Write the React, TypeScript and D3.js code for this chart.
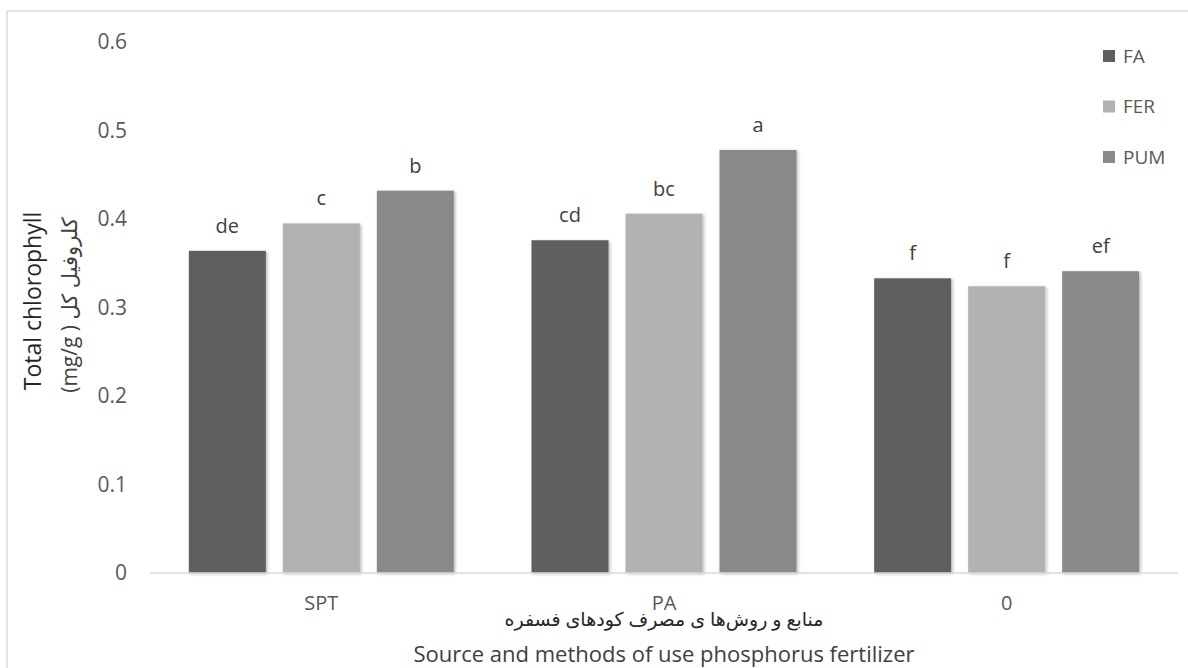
import React from "react";
import * as d3 from "d3";

const categories = ["SPT", "PA", "0"];
const seriesNames = ["FA", "FER", "PUM"];
const faValues = [0.364, 0.376, 0.333];
const ferValues = [0.395, 0.406, 0.324];
const pumValues = [0.432, 0.478, 0.341];
const faLetters = ["de", "cd", "f"];
const ferLetters = ["c", "bc", "f"];
const pumLetters = ["b", "a", "ef"];
const yTicks = [0, 0.1, 0.2, 0.3, 0.4, 0.5, 0.6];
const colors = ["#5f5f5f", "#b2b2b2", "#898989"];

const yTitle1 = "Total chlorophyll";
const yTitle2 = "(mg/g ) کلروفیل کل";
const xTitleFa = "منابع و روش‌ها ی مصرف کودهای فسفره";
const xTitleEn = "Source and methods of use phosphorus fertilizer";

const W = 1188;
const H = 668;
const FONT = "'Open Sans', 'DejaVu Sans', sans-serif";

export default function App() {
  const values = [faValues, ferValues, pumValues];
  const letters = [faLetters, ferLetters, pumLetters];

  const y = d3.scaleLinear().domain([0, 0.6]).range([573, 42]);
  const x0 = d3.scaleBand<string>().domain(categories).range([150, 1178]).paddingInner(0).paddingOuter(0);
  const groupW = 265;
  const off = (x0.bandwidth() - groupW) / 2;
  const x1 = d3.scaleBand<string>().domain(seriesNames).range([off, off + groupW]).paddingInner(0.181).paddingOuter(0);

  return (
    <svg width={W} height={H} style={{ position: "absolute", left: 0, top: 0, background: "#fff" }} fontFamily={FONT}>
      <defs>
        <filter id="shadow" x="-10%" y="-10%" width="130%" height="130%">
          <feDropShadow dx="1.5" dy="1" stdDeviation="1.5" floodColor="#000" floodOpacity="0.28" />
        </filter>
      </defs>
      <rect x={0} y={0} width={W} height={H} fill="#fff" />
      <rect x={7} y={11} width={1300} height={800} fill="none" stroke="#d9d9d9" strokeWidth={1.5} />

      {yTicks.map((t) => (
        <text key={t} x={127} y={y(t)} dy="0.35em" textAnchor="end" fontSize={21} fill="#595959">
          {d3.format("")(t)}
        </text>
      ))}

      {categories.map((c, ci) =>
        seriesNames.map((s, si) => {
          const v = values[si][ci];
          const bx = (x0(c) as number) + (x1(s) as number);
          const bw = x1.bandwidth();
          return (
            <g key={c + s}>
              <rect x={bx} y={y(v)} width={bw} height={y(0) - y(v)} fill={colors[si]} filter="url(#shadow)" />
              <text x={bx + bw / 2} y={y(v) - 18} textAnchor="middle" fontSize={20} fill="#404040">
                {letters[si][ci]}
              </text>
            </g>
          );
        })
      )}

      <line x1={150} x2={1178} y1={y(0)} y2={y(0)} stroke="#d9d9d9" strokeWidth={1.5} />

      {categories.map((c) => (
        <text key={c} x={(x0(c) as number) + x0.bandwidth() / 2} y={610} textAnchor="middle" fontSize={20} fill="#595959">
          {c}
        </text>
      ))}

      <text x={664} y={626} textAnchor="middle" fontSize={19} fill="#262626" direction="rtl">
        {xTitleFa}
      </text>
      <text x={664} y={662} textAnchor="middle" fontSize={22} fill="#404040">
        {xTitleEn}
      </text>

      <text transform={`translate(41,301) rotate(-90)`} textAnchor="middle" fontSize={23} fill="#262626">
        {yTitle1}
      </text>
      <text transform={`translate(77,305) rotate(-90)`} textAnchor="middle" fontSize={21} fill="#404040">
        {yTitle2}
      </text>

      {seriesNames.map((s, i) => (
        <g key={s}>
          <rect x={1103} y={50 + i * 50.5} width={12} height={12} fill={colors[i]} />
          <text x={1123} y={56 + i * 50.5} dy="0.35em" fontSize={19} fill="#595959">
            {s}
          </text>
        </g>
      ))}
    </svg>
  );
}
